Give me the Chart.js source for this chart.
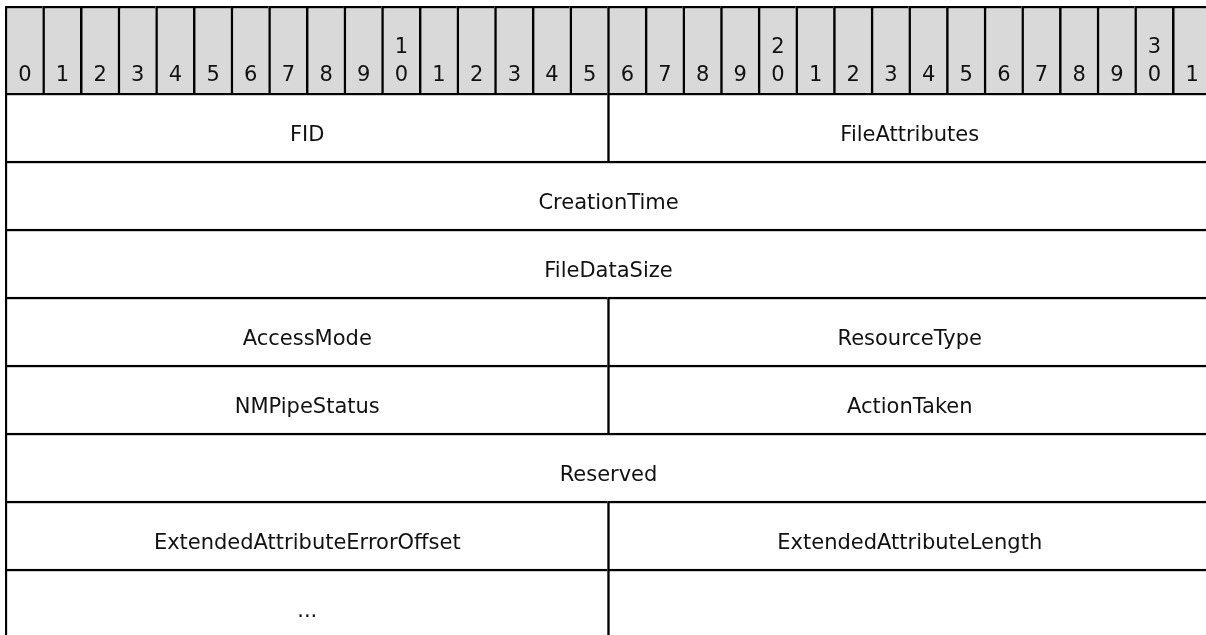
<!DOCTYPE html>
<html>
<head>
<meta charset="utf-8">
<script src="https://cdn.jsdelivr.net/npm/chart.js@4/dist/chart.umd.min.js"></script>
<style>
    html, body {
        margin: 0;
        padding: 0;
        background: #ffffff;
        overflow: hidden;
    }
    #diagram {
        position: relative;
        width: 1206px;
        height: 635px;
        overflow: hidden;
    }
    #bits-chart {
        position: absolute;
        left: 0;
        top: 0;
    }
    #fields-chart {
        position: absolute;
        left: 0;
        top: 93px;
    }
</style>
</head>
<body>
<div id="diagram">
    <canvas id="bits-chart" width="1212" height="93"></canvas>
    <canvas id="fields-chart" width="1212" height="544"></canvas>
</div>
<script>
// bit ruler along the top, tens digit over the units digit
const bitLabels = [
    '0', '1', '2', '3', '4', '5', '6', '7', '8', '9',
    '1\n0', '1', '2', '3', '4', '5', '6', '7', '8', '9',
    '2\n0', '1', '2', '3', '4', '5', '6', '7', '8', '9',
    '3\n0', '1'
];

const rowIds = ['w0', 'w1', 'w2', 'w3', 'w4', 'w5', 'w6', 'w7'];

const fieldNames = [
    'FID', 'FileAttributes',
    'CreationTime',
    'FileDataSize',
    'AccessMode', 'ResourceType',
    'NMPipeStatus', 'ActionTaken',
    'Reserved',
    'ExtendedAttributeErrorOffset', 'ExtendedAttributeLength',
    '...', ''
];
const fieldRows = [0, 0, 1, 2, 3, 3, 4, 4, 5, 6, 6, 7, 7];
const fieldStartBits = [0, 16, 0, 0, 0, 16, 0, 16, 0, 0, 16, 0, 16];
const fieldEndBits = [16, 32, 32, 32, 16, 32, 16, 32, 32, 16, 32, 16, 32];

const LINE_COLOR = '#000000';
const TEXT_COLOR = '#111111';
const HEADER_FILL = '#d9d9d9';
const FONT = '21px "DejaVu Sans", Verdana, sans-serif';

// each cell only draws its top and left edge so shared edges stay one line thick
const cellBorder = { top: 2.5, left: 2.5, right: 0, bottom: 0 };

const cellLabels = {
    id: 'cellLabels',
    afterDatasetsDraw(chart, args, opts) {
        const ctx = chart.ctx;
        ctx.save();
        ctx.font = FONT;
        ctx.fillStyle = TEXT_COLOR;
        ctx.textAlign = 'center';
        ctx.textBaseline = 'alphabetic';
        chart.data.datasets.forEach((dataset, di) => {
            const meta = chart.getDatasetMeta(di);
            meta.data.forEach((bar, i) => {
                const { x, base, y, height } = bar.getProps(['x', 'base', 'y', 'height'], true);
                const cx = (x + base) / 2 + 1;
                const lines = (dataset.labels[i] || '').split('\n');
                if (opts.bottomAligned) {
                    // last line sits near the bottom of the ruler cell
                    const bottom = y + height / 2;
                    lines.reverse().forEach((line, li) => {
                        ctx.fillText(line, cx, bottom - 12 - li * 28);
                    });
                } else {
                    ctx.fillText(lines[0], cx, y + 13.5);
                }
            });
        });
        ctx.restore();
    }
};

function baseOptions(padding) {
    return {
        indexAxis: 'y',
        responsive: false,
        maintainAspectRatio: false,
        animation: false,
        layout: { padding },
        plugins: {
            legend: { display: false },
            tooltip: { enabled: false }
        },
        scales: {
            x: { type: 'linear', min: 0, max: 32, display: false },
            y: { type: 'category', display: false, offset: true }
        }
    };
}

function renderBits() {
    const ctx = document.getElementById('bits-chart').getContext('2d');
    const options = baseOptions({ left: 5, right: 2, top: 6, bottom: 0 });
    options.plugins.cellLabels = { bottomAligned: true };
    return new Chart(ctx, {
        type: 'bar',
        data: {
            labels: ['bits'],
            datasets: [{
                data: bitLabels.map((_, i) => ({ x: [i, i + 1], y: 'bits' })),
                labels: bitLabels,
                backgroundColor: HEADER_FILL,
                borderColor: LINE_COLOR,
                borderWidth: cellBorder,
                borderSkipped: false,
                grouped: false,
                barPercentage: 1,
                categoryPercentage: 1
            }]
        },
        options,
        plugins: [cellLabels]
    });
}

function renderFields() {
    const ctx = document.getElementById('fields-chart').getContext('2d');
    const options = baseOptions({ left: 5, right: 2, top: 0, bottom: 0 });
    options.plugins.cellLabels = { bottomAligned: false };
    return new Chart(ctx, {
        type: 'bar',
        data: {
            labels: rowIds,
            datasets: [{
                data: fieldNames.map((_, i) => ({
                    x: [fieldStartBits[i], fieldEndBits[i]],
                    y: rowIds[fieldRows[i]]
                })),
                labels: fieldNames,
                backgroundColor: '#ffffff',
                borderColor: LINE_COLOR,
                borderWidth: cellBorder,
                borderSkipped: false,
                grouped: false,
                barPercentage: 1,
                categoryPercentage: 1
            }]
        },
        options,
        plugins: [cellLabels]
    });
}

renderBits();
renderFields();
</script>
</body>
</html>
